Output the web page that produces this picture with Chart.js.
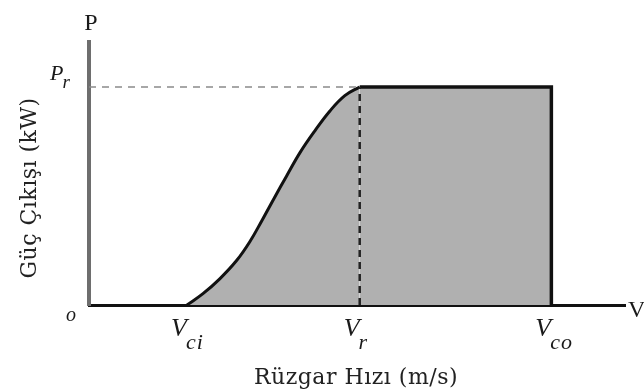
<!DOCTYPE html>
<html>
<head>
<meta charset="utf-8">
<script src="https://cdn.jsdelivr.net/npm/chart.js@4.4.1/dist/chart.umd.min.js"></script>
<style>
  html, body { margin: 0; padding: 0; background: #fff; }
  #wrap { width: 644px; height: 392px; position: relative; }
</style>
</head>
<body>
<div id="wrap"><canvas id="power"></canvas></div>
<script>
// wind turbine power curve (normalised: P / Pr)
const vCutIn = 3.62;
const vRated = 10;
const vCutOut = 17.08;
const xMax = 19.8;
const yMax = 1.206;

// rising part of the curve, cut-in -> rated
const curveSpeed = [3.62, 4.21, 4.83, 5.46, 5.94, 6.40, 6.85, 7.30, 7.80, 8.35, 8.90, 9.45, 10];
const curvePower = [0, 0.052, 0.120, 0.205, 0.290, 0.390, 0.492, 0.592, 0.700, 0.800, 0.890, 0.960, 1.0];

// flat rated part, then drop at cut-out
const ratedSpeed = [vRated, vCutOut, vCutOut];
const ratedPower = [1, 1, 0];

// tick labels: [main, subscript]
const xTickVals = [vCutIn, vRated, vCutOut];
const xTickLabels = [["V", "ci"], ["V", "r"], ["V", "co"]];
const yTickVals = [0, 1];
const yTickLabels = [["o", ""], ["P", "r"]];

const xTitle = "Rüzgar Hızı (m/s)";
const yTitle = "Güç Çıkışı (kW)";

const pts = (xs, ys) => xs.map((x, i) => ({ x, y: ys[i] }));

const FILL = "#b0b0b0";
const SERIF = "'DejaVu Serif', 'Liberation Serif', serif";
const MATH = "'Liberation Serif', 'DejaVu Serif', serif";

// axis names, italic tick labels with subscripts, titles
const labelsPlugin = {
  id: "labels",
  afterDraw(chart) {
    const { ctx, scales: { x, y }, chartArea } = chart;
    ctx.save();
    ctx.fillStyle = "#1a1a1a";
    ctx.textBaseline = "alphabetic";
    ctx.textAlign = "left";

    const drawSub = (main, sub, left, baseY, mainSize, subSize, drop) => {
      ctx.font = `italic ${mainSize}px ${MATH}`;
      const mw = ctx.measureText(main).width;
      ctx.fillText(main, left, baseY);
      if (sub) {
        ctx.letterSpacing = "1px";
        ctx.font = `italic ${subSize}px ${MATH}`;
        ctx.fillText(sub, left + mw - 1, baseY + drop);
        ctx.letterSpacing = "0px";
      }
    };

    xTickVals.forEach((v, i) => {
      const px = x.getPixelForValue(v);
      drawSub(xTickLabels[i][0], xTickLabels[i][1], px - 16, 336, 26, 22, 13);
    });

    yTickVals.forEach((v, i) => {
      const py = y.getPixelForValue(v);
      const [m, s] = yTickLabels[i];
      if (s) drawSub(m, s, 50, py - 7, 22, 19, 8);
      else {
        ctx.font = `italic 20px ${MATH}`;
        ctx.textAlign = "center";
        ctx.fillText(m, 71, py + 16);
        ctx.textAlign = "left";
      }
    });

    // axis names
    ctx.font = `24px ${MATH}`;
    ctx.textAlign = "center";
    ctx.fillText("P", chartArea.left + 2, 30);
    ctx.textAlign = "left";
    ctx.fillText("V", chartArea.right + 3, chartArea.bottom + 12);

    // titles
    ctx.fillStyle = "#222";
    ctx.font = `22px ${SERIF}`;
    ctx.letterSpacing = "0.5px";
    ctx.textAlign = "center";
    ctx.fillText(xTitle, (chartArea.left + chartArea.right) / 2 - 1, 384);
    ctx.translate(36, 188);
    ctx.rotate(-Math.PI / 2);
    ctx.fillText(yTitle, 0, 0);
    ctx.restore();
  }
};

new Chart(document.getElementById("power"), {
  type: "line",
  data: {
    datasets: [
      {
        data: pts(curveSpeed, curvePower),
        borderColor: "#111",
        borderWidth: 3,
        backgroundColor: FILL,
        fill: "origin",
        pointRadius: 0,
        tension: 0.4,
        order: 3
      },
      {
        data: pts(ratedSpeed, ratedPower),
        borderColor: "#111",
        borderWidth: 3.5,
        backgroundColor: FILL,
        fill: "origin",
        pointRadius: 0,
        tension: 0,
        borderJoinStyle: "miter",
        order: 2
      },
      {
        // dashed guide at rated power
        data: pts([0, vRated], [1, 1]),
        borderColor: "#8a8a8a",
        borderWidth: 1.5,
        borderDash: [7, 6],
        pointRadius: 0,
        fill: false,
        order: 1
      },
      {
        // dashed guide at rated speed
        data: pts([vRated, vRated], [0, 1]),
        borderColor: "#222",
        borderWidth: 2.5,
        borderDash: [7, 5],
        pointRadius: 0,
        fill: false,
        order: 0
      }
    ]
  },
  options: {
    responsive: true,
    maintainAspectRatio: false,
    animation: false,
    events: [],
    layout: { padding: { left: 89, right: 19, top: 42, bottom: 87 } },
    plugins: { legend: { display: false }, tooltip: { enabled: false } },
    scales: {
      x: {
        type: "linear", min: 0, max: xMax,
        grid: { display: false, drawTicks: false },
        border: { display: true, color: "#111", width: 3 },
        ticks: { display: false }
      },
      y: {
        type: "linear", min: 0, max: yMax,
        grid: { display: false, drawTicks: false },
        border: { display: true, color: "#6e6e6e", width: 4 },
        ticks: { display: false }
      }
    }
  },
  plugins: [labelsPlugin]
});
</script>
</body>
</html>
